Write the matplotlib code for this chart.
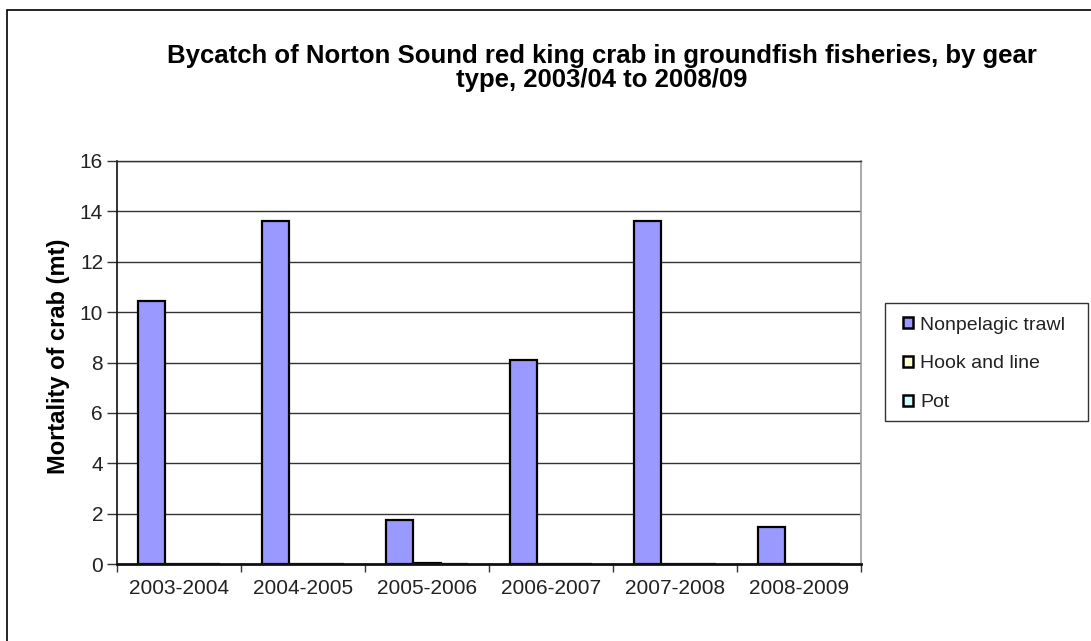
import matplotlib
matplotlib.use("Agg")
import matplotlib.pyplot as plt
from matplotlib.patches import Patch, Rectangle
import numpy as np

categories = ["2003-2004", "2004-2005", "2005-2006", "2006-2007", "2007-2008", "2008-2009"]
series_names = ["Nonpelagic trawl", "Hook and line", "Pot"]
nonpelagic = [10.44, 13.6, 1.76, 8.08, 13.6, 1.45]
hook_line = [0.0, 0.0, 0.05, 0.0, 0.0, 0.0]
pot = [0.0, 0.0, 0.0, 0.0, 0.0, 0.0]
colors = ["#9999FF", "#FFFFCC", "#CCFFFF"]
yticks = [0, 2, 4, 6, 8, 10, 12, 14, 16]

plt.rcParams['font.family'] = ['Liberation Sans', 'DejaVu Sans']

W, H = 1091, 641
fig = plt.figure(figsize=(W / 100, H / 100), dpi=100)
ax = fig.add_axes([117 / W, 1 - 564 / H, (861 - 117) / W, (564 - 161) / H])

x = np.arange(len(categories))
bw = 1 / 4.5
for k, (vals, c) in enumerate(zip([nonpelagic, hook_line, pot], colors)):
    ax.bar(x + (k - 1) * bw, vals, width=bw, color=c, edgecolor="black",
           linewidth=1.6, zorder=3)

ax.set_xlim(-0.5, len(categories) - 0.5)
ax.set_ylim(0, 16)
ax.set_yticks(yticks)
ax.set_yticklabels([str(v) for v in yticks], fontsize=15, color="#222222")
ax.set_xticks(x)
ax.set_xticklabels(categories, fontsize=15, color="#222222")
ax.set_xticks(np.arange(-0.5, len(categories)), minor=True)
ax.tick_params(axis="x", which="major", length=0, pad=11)
ax.tick_params(axis="x", which="minor", length=6, width=1.0, direction="out", color="#333333")
ax.tick_params(axis="y", length=7, width=1.0, direction="out", pad=3, color="#333333")
ax.yaxis.grid(True, color="#333333", linewidth=1.0, zorder=0)
ax.set_axisbelow(True)
ax.spines["left"].set_color("#111111")
ax.spines["left"].set_linewidth(1.2)
ax.spines["bottom"].set_color("#111111")
ax.spines["bottom"].set_linewidth(2.0)
ax.spines["bottom"].set_zorder(4)
ax.spines["right"].set_color("#999999")
ax.spines["right"].set_linewidth(1.2)
ax.spines["top"].set_color("#333333")
ax.spines["top"].set_linewidth(1.0)

fig.text(58 / W, 1 - 356 / H, "Mortality of crab (mt)", rotation=90, ha="center",
         va="center", fontsize=17, fontweight="bold")

fig.text(602 / W, 1 - 68 / H,
         "Bycatch of Norton Sound red king crab in groundfish fisheries, by gear\ntype, 2003/04 to 2008/09",
         ha="center", va="center", fontsize=18.5, fontweight="bold", linespacing=0.95)

# legend frame
fig.add_artist(Rectangle((885 / W, 1 - 421 / H), (1088 - 885) / W, (421 - 303) / H,
                         transform=fig.transFigure, fill=False, edgecolor="#333333",
                         linewidth=1.0))
handles = [Patch(facecolor=c, edgecolor="black", linewidth=1.8) for c in colors]
leg = fig.legend(handles, series_names, loc="upper left",
                 bbox_to_anchor=(903 / W, 1 - 316.5 / H), bbox_transform=fig.transFigure,
                 fontsize=14, frameon=False,
                 handlelength=0.5, handleheight=0.5, handletextpad=0.4,
                 labelspacing=1.12, borderpad=0, borderaxespad=0)
for t in leg.get_texts():
    t.set_color("#222222")

fig.add_artist(Rectangle((7 / W, -0.1), 1.2, 1 - 10 / H + 0.1, transform=fig.transFigure,
                         fill=False, edgecolor="black", linewidth=1.2))

fig.savefig("out.png", dpi=100)
